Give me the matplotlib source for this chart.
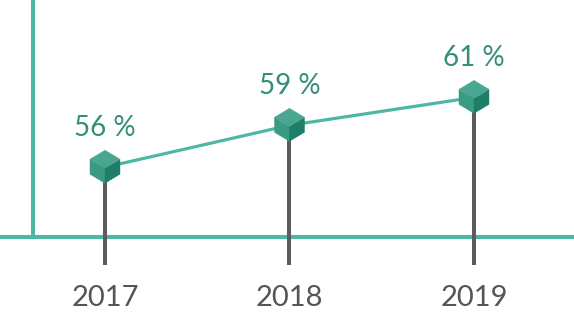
import matplotlib
matplotlib.use("Agg")
import matplotlib.pyplot as plt
from matplotlib.patches import Polygon
import matplotlib.transforms as mtransforms

years = ["2017", "2018", "2019"]
values = [56, 59, 61]
labels = ["56 %", "59 %", "61 %"]

LINE = "#4db8a2"
TEXT = "#338f79"
STEM = "#5c5c5c"
YEAR = "#555555"
TOP = "#4aa690"
LEFT = "#3a9a83"
RIGHT = "#1f7e68"

fig = plt.figure(figsize=(5.74, 3.17), dpi=100)
ax = fig.add_axes([0, 52 / 317, 1, 265 / 317])
ax.set_xlim(-0.569, 2.542)
ax.set_ylim(49.0, 67.97)
ax.axis("off")

x = list(range(len(years)))
axis_y = 51.0

# axes lines
ax.axhline(axis_y, color=LINE, lw=2.9, zorder=1)
ax.plot([-0.39, -0.39], [axis_y, 67.97], color=LINE, lw=2.9, zorder=1, solid_capstyle="butt")

# stems
for xi, v in zip(x, values):
    ax.plot([xi, xi], [49.0, v], color=STEM, lw=2.9, zorder=2, solid_capstyle="butt")

# connecting line
ax.plot(x, values, color=LINE, lw=2.3, zorder=3)

# cubes
top = [(0, 17), (-15, 8), (0, -1), (15, 8)]
left = [(-15, 8), (0, -1), (0, -16), (-15, -7)]
right = [(15, 8), (0, -1), (0, -16), (15, -7)]
s = fig.dpi / 100.0
for xi, v in zip(x, values):
    tr = mtransforms.Affine2D().scale(s) + mtransforms.ScaledTranslation(xi, v, ax.transData)
    for pts, c in ((left, LEFT), (right, RIGHT), (top, TOP)):
        ax.add_patch(Polygon(pts, closed=True, facecolor=c, edgecolor=c, lw=0.3,
                             transform=tr, zorder=4, clip_on=False))

# value labels
for xi, v, lab in zip(x, values, labels):
    ax.annotate(lab, (xi, v), xytext=(0, 39), textcoords="offset pixels",
                ha="center", va="center", fontsize=20, color=TEXT, family="Lato")

# year labels
for xi, yr in zip(x, years):
    fig.text((105 + 184.5 * xi) / 574, 1 - 298 / 317, yr,
             ha="center", va="center", fontsize=21, color=YEAR, family="Lato")

fig.savefig("out.png", dpi=100)
